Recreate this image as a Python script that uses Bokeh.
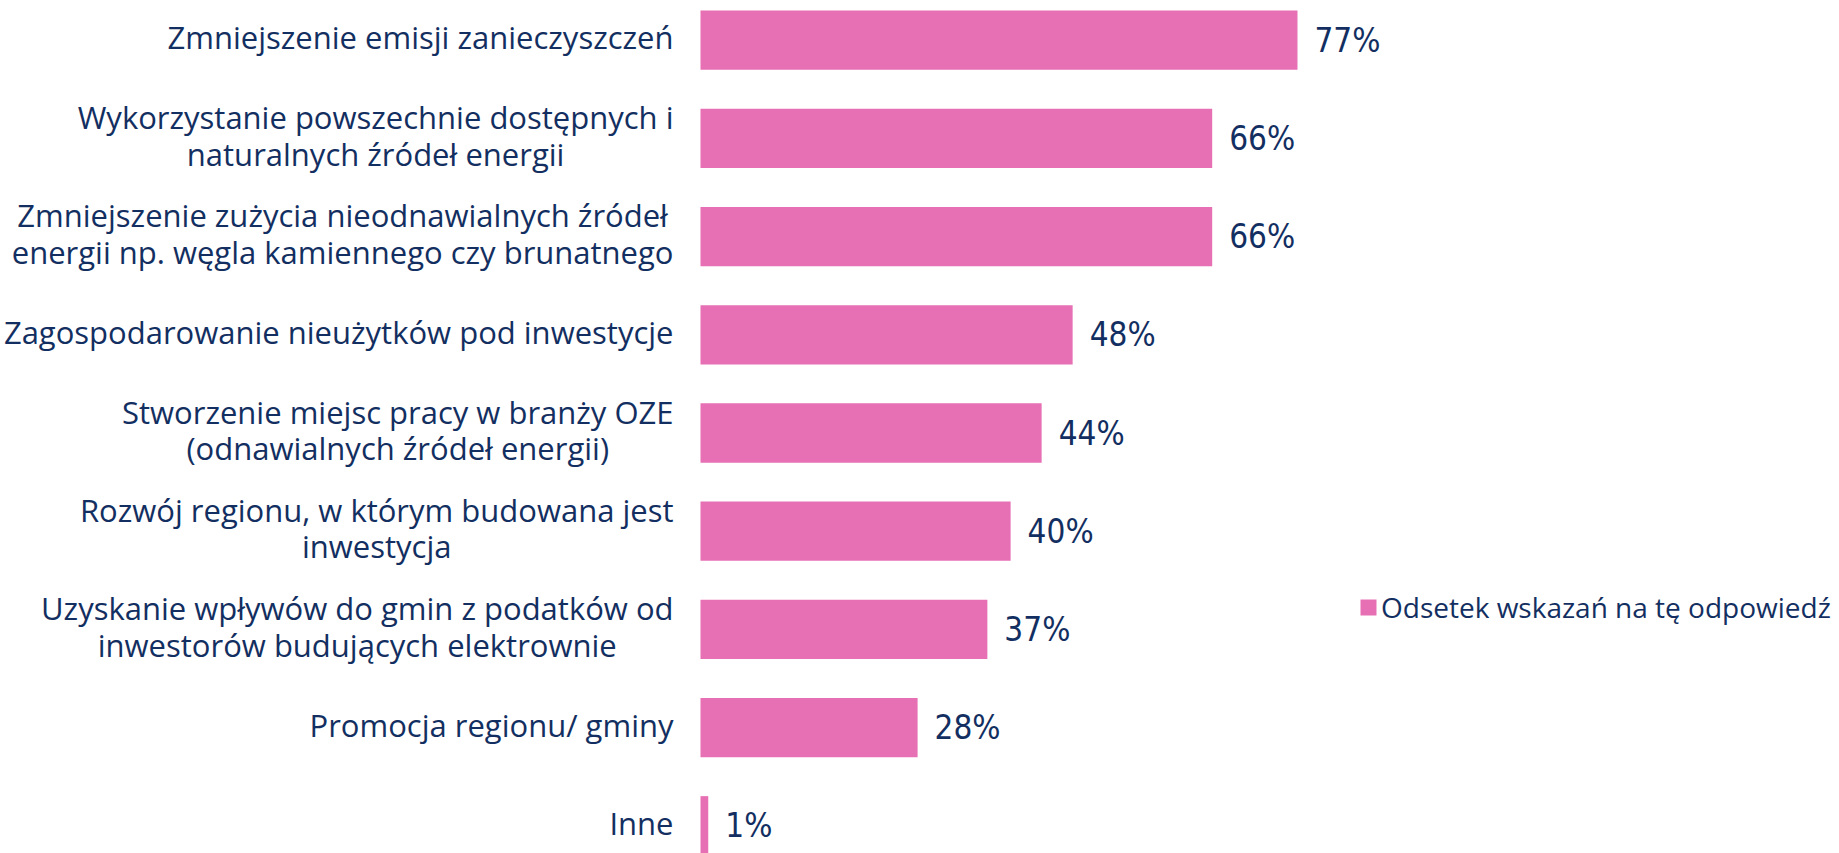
from bokeh.plotting import figure
from bokeh.models import Range1d, ColumnDataSource, Legend, LegendItem
from bokeh.core.properties import value
from bokeh.embed import file_html
from bokeh.resources import INLINE
import numpy as np

categories = [
    "Zmniejszenie emisji zanieczyszczeń",
    "Wykorzystanie powszechnie dostępnych i\nnaturalnych źródeł energii",
    "Zmniejszenie zużycia nieodnawialnych źródeł\nenergii np. węgla kamiennego czy brunatnego",
    "Zagospodarowanie nieużytków pod inwestycje",
    "Stworzenie miejsc pracy w branży OZE\n(odnawialnych źródeł energii)",
    "Rozwój regionu, w którym budowana jest\ninwestycja",
    "Uzyskanie wpływów do gmin z podatków od\ninwestorów budujących elektrownie",
    "Promocja regionu/ gminy",
    "Inne",
]
values = [77, 66, 66, 48, 44, 40, 37, 28, 1]
value_labels = [f"{v}%" for v in values]
series_name = "Odsetek wskazań na tę odpowiedź"

PINK = "#E76FB4"
NAVY = "#132F61"
LABEL_FONT = "Open Sans"
PCT_FONT = "DejaVu Sans Condensed, Roboto"

W, H = 1839, 853
px_per_unit = 7.753
zero_px = 700
row_px = 98.2
first_row_px = 39.7

src = ColumnDataSource(dict(
    y=np.arange(len(categories)),
    v=values,
    cat=categories,
    lab=value_labels,
))

p = figure(width=W, height=H, output_backend="svg", toolbar_location=None,
           x_range=Range1d(-zero_px / px_per_unit, (W - zero_px) / px_per_unit),
           y_range=Range1d((H - first_row_px) / row_px, -first_row_px / row_px),
           min_border=0, x_axis_location=None, y_axis_location=None)
p.grid.visible = False
p.outline_line_color = None
p.background_fill_color = "white"

bars = p.hbar(y="y", left=0, right="v", height=0.604, source=src,
              fill_color=PINK, line_color=None)

p.text(x=0, y="y", text="cat", source=src, x_offset=-27, y_offset=-3,
       anchor="center_right", text_align="center", text_baseline="middle",
       text_font=value(LABEL_FONT), text_font_size="31px", text_color=NAVY,
       text_line_height=0.865)

p.text(x="v", y="y", text="lab", source=src, x_offset=17, y_offset=0,
       text_align="left", text_baseline="middle",
       text_font=value(PCT_FONT), text_font_size="33px", text_color=NAVY)

legend = Legend(items=[LegendItem(label=series_name, renderers=[bars])],
                location=(1358, 227), orientation="vertical",
                glyph_width=20, glyph_height=20, label_standoff=3,
                padding=0, margin=0, border_line_color=None,
                background_fill_alpha=0,
                label_text_font=LABEL_FONT, label_text_font_size="28px",
                label_text_color=NAVY)
p.add_layout(legend, "center")

open("out.html", "w").write(file_html(p, INLINE))
